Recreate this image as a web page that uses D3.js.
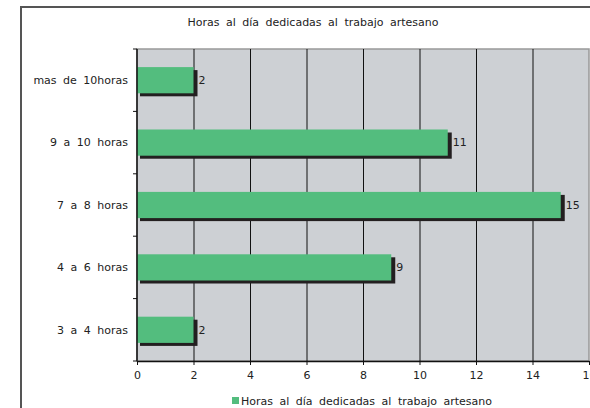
<!DOCTYPE html>
<html>
<head>
<meta charset="utf-8">
<script src="https://cdn.jsdelivr.net/npm/d3@7"></script>
<style>
  body { margin: 0; background: #fff; }
  text { font-family: 'DejaVu Sans', Verdana, sans-serif; font-size: 11px; fill: #222; word-spacing: 3px; }
</style>
</head>
<body>
<div id="chart"></div>
<script>
const categories = ['mas de 10horas', '9 a 10 horas', '7 a 8 horas', '4 a 6 horas', '3 a 4 horas']
const values = [2, 11, 15, 9, 2]
const xTicks = [0, 2, 4, 6, 8, 10, 12, 14, 16]
const seriesName = 'Horas al día dedicadas al trabajo artesano'
const title = 'Horas al día dedicadas al trabajo artesano'

const width = 590
const height = 408
const plot = { left: 137, right: 589, top: 49, bottom: 361 }

const svg = d3.select('#chart')
  .append('svg')
  .attr('width', width)
  .attr('height', height)

// outer frame
svg.append('rect')
  .attr('x', 21)
  .attr('y', 7)
  .attr('width', 600)
  .attr('height', 420)
  .attr('fill', '#fff')
  .attr('stroke', '#555')
  .attr('stroke-width', 2)

const x = d3.scaleLinear()
  .domain([0, 16])
  .range([plot.left, plot.right])

const y = d3.scaleBand()
  .domain(categories)
  .range([plot.top, plot.bottom])
  .paddingInner(0.58)
  .paddingOuter(0.29)

// plot background
svg.append('rect')
  .attr('x', plot.left)
  .attr('y', plot.top)
  .attr('width', plot.right - plot.left)
  .attr('height', plot.bottom - plot.top)
  .attr('fill', '#cdd0d4')
  .attr('stroke', '#999')
  .attr('stroke-width', 1.5)

// grid lines
svg.append('g')
  .selectAll('line')
  .data(xTicks.slice(1, -1))
  .join('line')
  .attr('x1', d => x(d) + 0.5)
  .attr('x2', d => x(d) + 0.5)
  .attr('y1', plot.top)
  .attr('y2', plot.bottom)
  .attr('stroke', '#111')
  .attr('stroke-width', 1)

// bars with shadow
const bars = svg.append('g')
bars.selectAll('rect.shadow')
  .data(values)
  .join('rect')
  .attr('class', 'shadow')
  .attr('x', x(0) + 3)
  .attr('y', (d, i) => y(categories[i]) + 3)
  .attr('width', d => x(d) - x(0) + 1)
  .attr('height', y.bandwidth())
  .attr('fill', '#231f20')

bars.selectAll('rect.bar')
  .data(values)
  .join('rect')
  .attr('class', 'bar')
  .attr('x', x(0))
  .attr('y', (d, i) => y(categories[i]))
  .attr('width', d => x(d) - x(0))
  .attr('height', y.bandwidth())
  .attr('fill', '#53bd7e')

bars.selectAll('text')
  .data(values)
  .join('text')
  .attr('x', d => x(d) + 5)
  .attr('y', (d, i) => y(categories[i]) + y.bandwidth() / 2)
  .attr('dy', '0.35em')
  .text(d => d)

// axes
const xAxis = svg.append('g')
  .attr('transform', `translate(0, ${plot.bottom})`)
  .call(d3.axisBottom(x).tickValues(xTicks).tickSize(4).tickSizeOuter(0).tickPadding(6))
xAxis.select('.domain').attr('stroke', '#111').attr('stroke-width', 1.5)
xAxis.selectAll('.tick line').attr('stroke', '#111')
xAxis.selectAll('text').style('font-size', '11px').attr('fill', '#222')

const boundaries = d3.range(categories.length + 1)
const yAxis = svg.append('g')
boundaries.forEach(i => {
  const yy = plot.top + i * (plot.bottom - plot.top) / categories.length
  yAxis.append('line')
    .attr('x1', plot.left - 4)
    .attr('x2', plot.left)
    .attr('y1', yy)
    .attr('y2', yy)
    .attr('stroke', '#111')
})
yAxis.append('line')
  .attr('x1', plot.left)
  .attr('x2', plot.left)
  .attr('y1', plot.top)
  .attr('y2', plot.bottom)
  .attr('stroke', '#111')
  .attr('stroke-width', 1.5)
yAxis.selectAll('text.cat')
  .data(categories)
  .join('text')
  .attr('class', 'cat')
  .attr('x', plot.left - 9)
  .attr('y', d => y(d) + y.bandwidth() / 2)
  .attr('dy', '0.35em')
  .attr('text-anchor', 'end')
  .text(d => d)

// title
svg.append('text')
  .attr('x', 313)
  .attr('y', 26)
  .attr('text-anchor', 'middle')
  .text(title)

// legend
const legend = svg.append('g').attr('transform', 'translate(232, 397)')
legend.append('rect')
  .attr('width', 7)
  .attr('height', 7)
  .attr('fill', '#53bd7e')
legend.append('text')
  .attr('x', 9)
  .attr('y', 4)
  .attr('dy', '0.35em')
  .text(seriesName)
</script>
</body>
</html>
